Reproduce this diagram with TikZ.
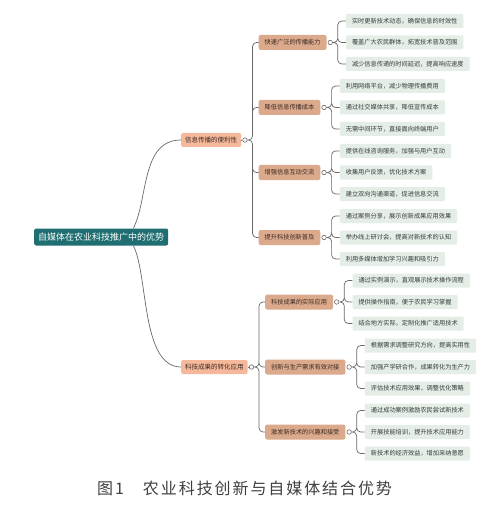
\documentclass[tikz,border=0pt]{standalone}
\usepackage{fontspec}
\usepackage{xcolor}
\usepackage{tikz}
\usetikzlibrary{positioning}
\newfontfamily\cjk{Noto Sans CJK SC}
\definecolor{rootc}{RGB}{30,110,114}
\definecolor{peachc}{RGB}{246,184,155}
\definecolor{tanc}{RGB}{219,169,139}
\definecolor{leafc}{RGB}{228,237,230}
\definecolor{linkc}{RGB}{105,105,105}
\definecolor{inkc}{RGB}{58,42,34}
\definecolor{leafink}{RGB}{55,60,58}

\begin{document}
\begin{tikzpicture}[
  x=1bp,y=-1bp,
  rootbox/.style={fill=rootc,text=white,rounded corners=2bp,anchor=west,inner xsep=4bp,inner ysep=0pt,minimum height=17bp,font=\cjk\fontsize{9bp}{10bp}\selectfont},
  mainbox/.style={fill=peachc,text=inkc,rounded corners=2bp,anchor=west,inner xsep=4bp,inner ysep=0pt,minimum height=14bp,font=\cjk\fontsize{6.5bp}{7bp}\selectfont},
  subbox/.style={fill=tanc,text=inkc,rounded corners=2bp,inner xsep=6bp,inner ysep=0pt,minimum height=15bp,font=\cjk\fontsize{6.2bp}{7bp}\selectfont},
  leafbox/.style={fill=leafc,text=leafink,rounded corners=1bp,inner xsep=6bp,inner ysep=0pt,minimum height=14bp,font=\cjk\fontsize{6.2bp}{7bp}\selectfont},
  knob/.style={circle,draw=linkc,fill=white,line width=0.6bp,inner sep=0pt,minimum size=4.5bp},
  link/.style={draw=linkc,line width=0.7bp,rounded corners=4bp},
  elbow/.style={to path={-- ++(5bp,0) |- (\tikztotarget)}}
]
\fill[white] (0,0) rectangle (500,509);

\node[rootbox] (root) at (34,237) {自媒体在农业科技推广中的优势};

\node[mainbox] (ma) at (181,140) {信息传播的便利性};
\node[knob,right=1bp of ma] (mak) {};
\node[mainbox] (mb) at (181,367) {科技成果的转化应用};
\node[knob,right=1bp of mb] (mbk) {};

% first branch
\node[subbox,right=11bp of mak,yshift=97.5bp] (sa1) {快速广泛的传播能力};
\node[subbox,right=11bp of mak,yshift=32.5bp] (sa2) {降低信息传播成本};
\node[subbox,right=11bp of mak,yshift=-32.5bp] (sa3) {增强信息互动交流};
\node[subbox,right=11bp of mak,yshift=-97.5bp] (sa4) {提升科技创新普及};
\node[knob,right=1bp of sa1] (sa1k) {};
\node[knob,right=1bp of sa2] (sa2k) {};
\node[knob,right=1bp of sa3] (sa3k) {};
\node[knob,right=1bp of sa4] (sa4k) {};

\node[leafbox,right=13bp of sa1k,yshift=21.5bp] (a11) {实时更新技术动态，确保信息的时效性};
\node[leafbox,right=13bp of sa1k] (a12) {覆盖广大农民群体，拓宽技术普及范围};
\node[leafbox,right=13bp of sa1k,yshift=-21.5bp] (a13) {减少信息传递的时间延迟，提高响应速度};
\node[leafbox,right=13bp of sa2k,yshift=21.5bp] (a21) {利用网络平台，减少物理传播费用};
\node[leafbox,right=13bp of sa2k] (a22) {通过社交媒体共享，降低宣传成本};
\node[leafbox,right=13bp of sa2k,yshift=-21.5bp] (a23) {无需中间环节，直接面向终端用户};
\node[leafbox,right=13bp of sa3k,yshift=21.5bp] (a31) {提供在线咨询服务，加强与用户互动};
\node[leafbox,right=13bp of sa3k] (a32) {收集用户反馈，优化技术方案};
\node[leafbox,right=13bp of sa3k,yshift=-21.5bp] (a33) {建立双向沟通渠道，促进信息交流};
\node[leafbox,right=13bp of sa4k,yshift=21.5bp] (a41) {通过案例分享，展示创新成果应用效果};
\node[leafbox,right=13bp of sa4k] (a42) {举办线上研讨会，提高对新技术的认知};
\node[leafbox,right=13bp of sa4k,yshift=-21.5bp] (a43) {利用多媒体增加学习兴趣和吸引力};

% second branch
\node[subbox,right=11bp of mbk,yshift=65bp] (sb1) {科技成果的实际应用};
\node[subbox,right=11bp of mbk] (sb2) {创新与生产需求有效对接};
\node[subbox,right=11bp of mbk,yshift=-65bp] (sb3) {激发新技术的兴趣和接受};
\node[knob,right=1bp of sb1] (sb1k) {};
\node[knob,right=1bp of sb2] (sb2k) {};
\node[knob,right=1bp of sb3] (sb3k) {};

\node[leafbox,right=13bp of sb1k,yshift=21.5bp] (b11) {通过实例演示，直观展示技术操作流程};
\node[leafbox,right=13bp of sb1k] (b12) {提供操作指南，便于农民学习掌握};
\node[leafbox,right=13bp of sb1k,yshift=-21.5bp] (b13) {结合地方实际，定制化推广适用技术};
\node[leafbox,right=13bp of sb2k,yshift=21.5bp] (b21) {根据需求调整研究方向，提高实用性};
\node[leafbox,right=13bp of sb2k] (b22) {加强产学研合作，成果转化为生产力};
\node[leafbox,right=13bp of sb2k,yshift=-21.5bp] (b23) {评估技术应用效果，调整优化策略};
\node[leafbox,right=13bp of sb3k,yshift=21.5bp] (b31) {通过成功案例激励农民尝试新技术};
\node[leafbox,right=13bp of sb3k] (b32) {开展技能培训，提升技术应用能力};
\node[leafbox,right=13bp of sb3k,yshift=-21.5bp] (b33) {新技术的经济效益，增加采纳意愿};

% connectors
\draw[link] ([xshift=-35bp]root.north east) .. controls +(15,-30) and +(-40,0) .. (ma.west);
\draw[link] ([xshift=-35bp]root.south east) .. controls +(15,30) and +(-40,0) .. (mb.west);
\draw[link] (ma.east)--(mak.west) (mb.east)--(mbk.west);
\draw[link] (mak.east) to[elbow] (sa1.west) (mak.east) to[elbow] (sa2.west)
  (mak.east) to[elbow] (sa3.west) (mak.east) to[elbow] (sa4.west);
\draw[link] (mbk.east) to[elbow] (sb1.west) (mbk.east) to[elbow] (sb2.west)
  (mbk.east) to[elbow] (sb3.west);
\draw[link] (sa1k.east) to[elbow] (a11.west) (sa1k.east) to[elbow] (a12.west) (sa1k.east) to[elbow] (a13.west);
\draw[link] (sa2k.east) to[elbow] (a21.west) (sa2k.east) to[elbow] (a22.west) (sa2k.east) to[elbow] (a23.west);
\draw[link] (sa3k.east) to[elbow] (a31.west) (sa3k.east) to[elbow] (a32.west) (sa3k.east) to[elbow] (a33.west);
\draw[link] (sa4k.east) to[elbow] (a41.west) (sa4k.east) to[elbow] (a42.west) (sa4k.east) to[elbow] (a43.west);
\draw[link] (sb1k.east) to[elbow] (b11.west) (sb1k.east) to[elbow] (b12.west) (sb1k.east) to[elbow] (b13.west);
\draw[link] (sb2k.east) to[elbow] (b21.west) (sb2k.east) to[elbow] (b22.west) (sb2k.east) to[elbow] (b23.west);
\draw[link] (sb3k.east) to[elbow] (b31.west) (sb3k.east) to[elbow] (b32.west) (sb3k.east) to[elbow] (b33.west);

% caption
\node[anchor=west,inner sep=0pt,text=black!75,font=\cjk\fontsize{16bp}{18bp}\selectfont\addfontfeature{LetterSpace=12}] (cap) at (97,488) {图1\hspace{19bp}农业科技创新与自媒体结合优势};
\end{tikzpicture}
\end{document}
